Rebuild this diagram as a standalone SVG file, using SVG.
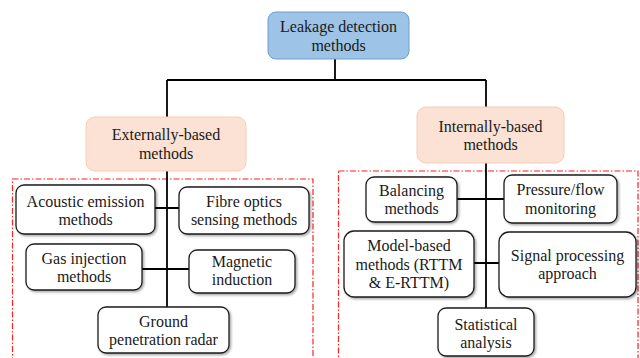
<svg xmlns="http://www.w3.org/2000/svg" width="640" height="358" viewBox="0 0 640 358">
<defs>
<filter id="sh" x="-10%" y="-10%" width="130%" height="140%">
<feDropShadow dx="1.5" dy="1.5" stdDeviation="1" flood-color="#000" flood-opacity="0.35"/>
</filter>
<style>
text{font-family:"Liberation Serif","Times New Roman",serif;font-size:16px;fill:#1a1a1a;text-anchor:middle}
.box{fill:#fff;stroke:#1a1a1a;stroke-width:1.3;filter:url(#sh)}
.top{fill:#9dc3e6;stroke:#6d9fd1;stroke-width:1}
.peach{fill:#fbe2d4;stroke:#f5cdb4;stroke-width:1}
.conn{stroke:#000;stroke-width:1.8;fill:none}
.grp{fill:none;stroke:#ff2020;stroke-width:1.2;stroke-dasharray:6 2 1.5 2}
</style>
</defs>
<rect class="grp" x="12.5" y="179" width="300.5" height="200"/>
<rect class="grp" x="338.5" y="171" width="299.5" height="200"/>
<g id="connectors">
<path class="conn" d="M335 59V80M167 80H486M167 80V307M486 80V308"/>
<path class="conn" d="M155 208H179M142 269H189"/>
<path class="conn" d="M457 199H504M474 263H499"/>
</g>
<g id="root"><rect class="top" x="268" y="12" width="141" height="47" rx="8"/>
<text x="338.5" y="32">Leakage detection</text><text x="338.5" y="50.5">methods</text></g>
<g id="external"><rect class="peach" x="86" y="117" width="160" height="54" rx="9"/>
<text x="166" y="140">Externally-based</text><text x="166" y="159">methods</text></g>
<g id="internal"><rect class="peach" x="417" y="107" width="147" height="56" rx="9"/>
<text x="490.5" y="131.5">Internally-based</text><text x="490.5" y="150">methods</text></g>
<g id="acoustic"><rect class="box" x="16" y="185" width="139" height="49" rx="8"/>
<text x="85.5" y="206.5">Acoustic emission</text><text x="85.5" y="225">methods</text></g>
<g id="fibre"><rect class="box" x="179" y="187" width="130" height="47" rx="8"/>
<text x="244" y="206.5">Fibre optics</text><text x="244" y="225">sensing methods</text></g>
<g id="gas"><rect class="box" x="26" y="244" width="116" height="46" rx="8"/>
<text x="84" y="263.5">Gas injection</text><text x="84" y="282">methods</text></g>
<g id="magnetic"><rect class="box" x="189" y="250" width="106" height="43" rx="8"/>
<text x="242" y="266.5">Magnetic</text><text x="242" y="285">induction</text></g>
<g id="ground"><rect class="box" x="98" y="307" width="131" height="46" rx="8"/>
<text x="163.5" y="326.5">Ground</text><text x="163.5" y="344.5">penetration radar</text></g>
<g id="balancing"><rect class="box" x="366" y="177" width="91" height="45" rx="8"/>
<text x="411.5" y="196">Balancing</text><text x="411.5" y="214">methods</text></g>
<g id="pressure"><rect class="box" x="504" y="175" width="113" height="48" rx="8"/>
<text x="560.5" y="195">Pressure/flow</text><text x="560.5" y="213.5">monitoring</text></g>
<g id="model"><rect class="box" x="344" y="231" width="130" height="66" rx="10"/>
<text x="409" y="250.5">Model-based</text><text x="409" y="269.5">methods (RTTM</text><text x="409" y="288">&amp; E-RTTM)</text></g>
<g id="signal"><rect class="box" x="499" y="232" width="137" height="65" rx="10"/>
<text x="567.5" y="260.5">Signal processing</text><text x="567.5" y="279">approach</text></g>
<g id="statistical"><rect class="box" x="438" y="308" width="96" height="48" rx="8"/>
<text x="486" y="329.5">Statistical</text><text x="486" y="347.5">analysis</text></g>
</svg>
